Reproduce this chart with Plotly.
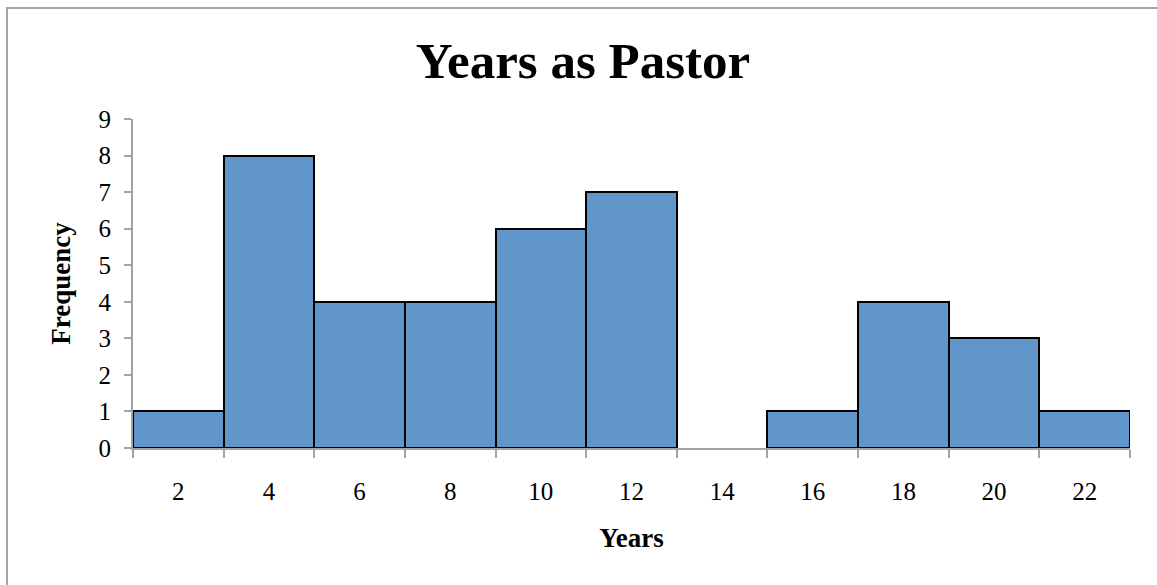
import plotly.graph_objects as go

# Histogram bins (upper bin values) and their frequencies
years = ["2", "4", "6", "8", "10", "12", "14", "16", "18", "20", "22"]
frequency = [1, 8, 4, 4, 6, 7, 0, 1, 4, 3, 1]
y_ticks = [0, 1, 2, 3, 4, 5, 6, 7, 8, 9]

W, H = 1157, 585
L, R, T, B = 133, 27, 119, 137
pw, ph = W - L - R, H - T - B

FONT = "Liberation Serif"
AXIS_GRAY = "#a3a3a3"
TICK_FONT = dict(family=FONT, size=25, color="black")

# empty bins get no outline so the axis stays grey underneath them
outline_widths = [2 if v > 0 else 0 for v in frequency]

fig = go.Figure(
    go.Bar(
        x=years,
        y=frequency,
        marker=dict(color="#6096c9", line=dict(color="black", width=outline_widths)),
        hoverinfo="x+y",
    )
)

# Grey frame around the whole chart area (runs off the right/bottom edges)
def px_x(p):
    return (p - L) / pw

def px_y(p):
    return (H - B - p) / ph

fig.add_shape(
    type="rect", xref="paper", yref="paper",
    x0=px_x(7), x1=px_x(1170), y0=px_y(8), y1=px_y(600),
    line=dict(color="#a6a6a6", width=2), fillcolor="rgba(0,0,0,0)", layer="below",
)

fig.update_layout(
    width=W, height=H,
    margin=dict(l=L, r=R, t=T, b=B, autoexpand=False),
    paper_bgcolor="white", plot_bgcolor="white",
    bargap=0,
    showlegend=False,
    font=dict(family=FONT, color="black", size=25),
    title=dict(
        text="<b>Years as Pastor</b>",
        font=dict(family=FONT, size=51, color="black"),
        x=583 / W, xanchor="center", y=1 - 60 / H, yanchor="middle",
    ),
    xaxis=dict(
        type="category",
        showline=True, linecolor=AXIS_GRAY, linewidth=2,
        ticks="outside", tickson="boundaries", ticklen=8, tickcolor=AXIS_GRAY, tickwidth=2,
        tickfont=TICK_FONT, ticklabelstandoff=20,
        showgrid=False, zeroline=False,
        title=dict(text="<b>Years</b>", font=dict(family=FONT, size=27), standoff=24),
    ),
    yaxis=dict(
        range=[0, 9], tickvals=y_ticks,
        showline=True, linecolor=AXIS_GRAY, linewidth=2,
        ticks="outside", ticklen=7, tickcolor=AXIS_GRAY, tickwidth=2,
        tickfont=TICK_FONT, ticklabelstandoff=8,
        showgrid=False, zeroline=False,
        title=dict(text="<b>Frequency</b>", font=dict(family=FONT, size=27), standoff=20),
    ),
)

fig.write_html("out.html")
